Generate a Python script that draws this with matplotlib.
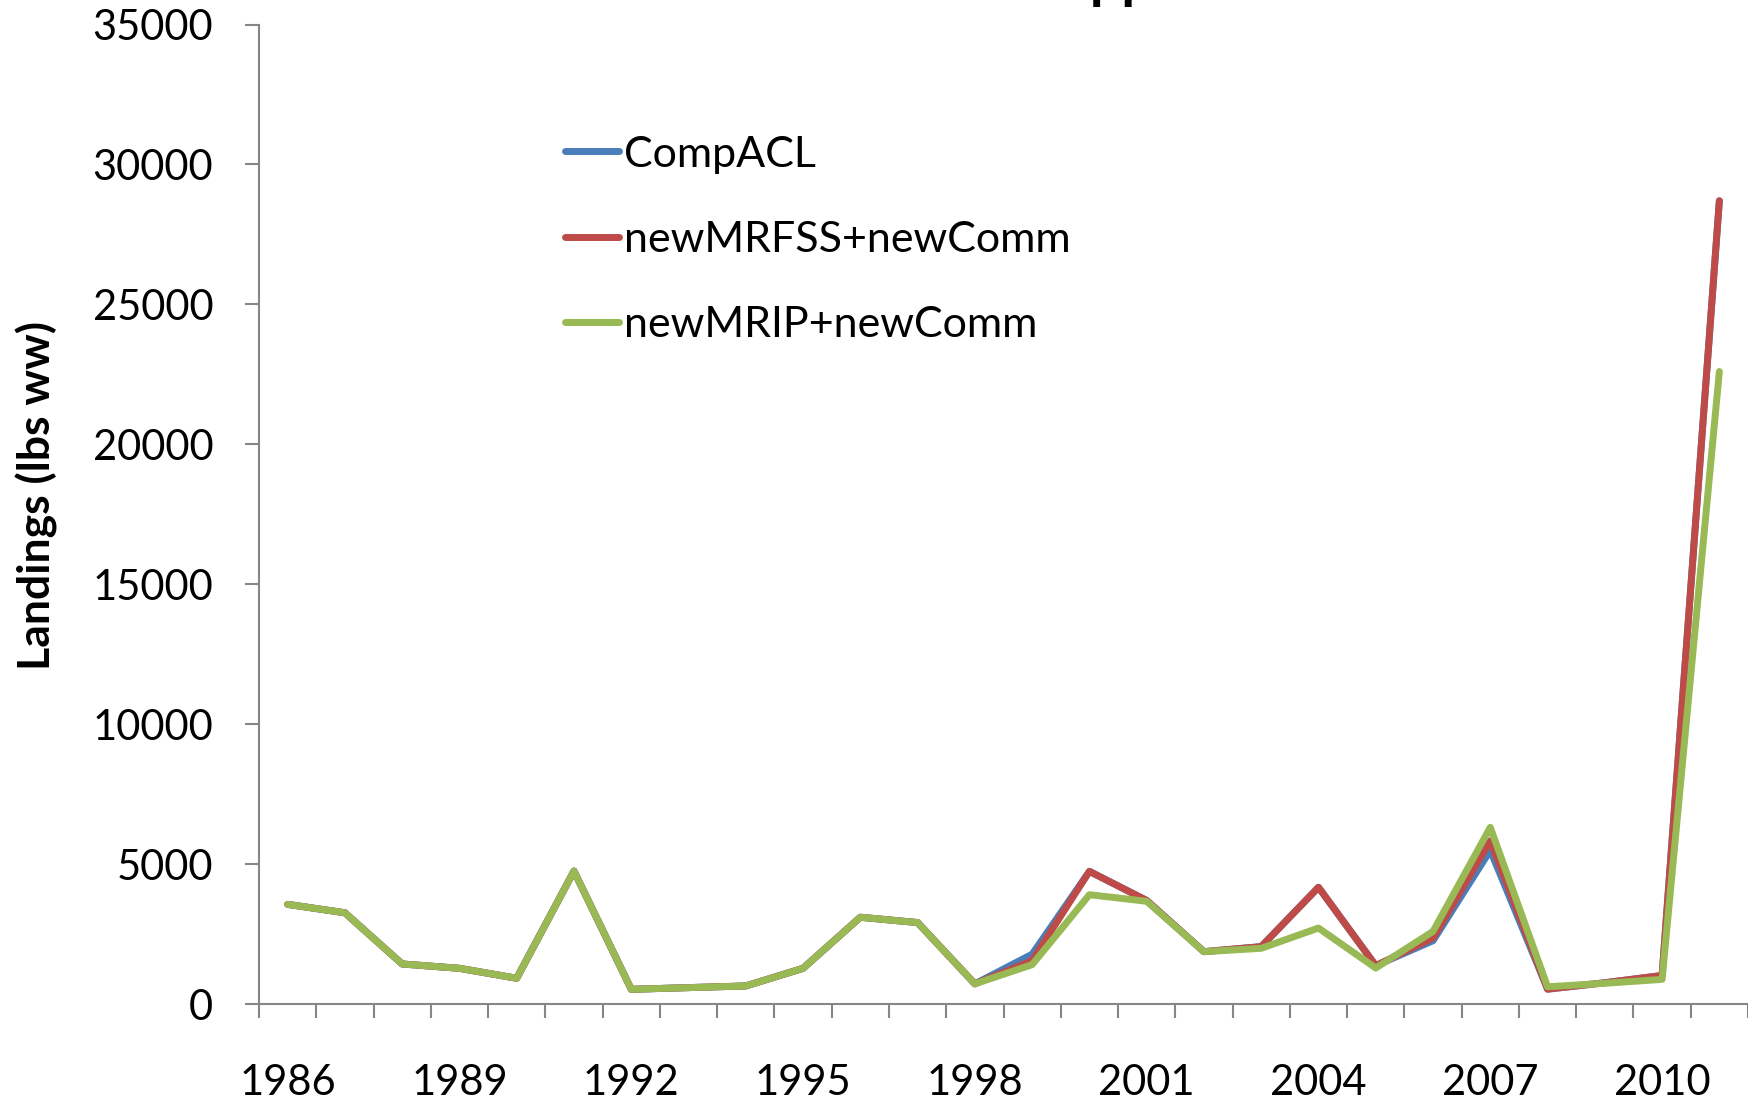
import matplotlib
matplotlib.use('Agg')
import matplotlib.pyplot as plt
import numpy as np

years = list(range(1986, 2012))
comp_acl = [3560, 3260, 1430, 1275, 920, 4750, 525, 585, 645, 1275, 3100, 2910,
            720, 1780, 4740, 3700, 1870, 2050, 4170, 1370, 2260, 5490, 530, 760, 1020, 28700]
new_mrfss = [3560, 3260, 1430, 1275, 920, 4750, 525, 585, 645, 1275, 3100, 2910,
             720, 1550, 4740, 3700, 1870, 2050, 4170, 1370, 2360, 5830, 530, 760, 1020, 28700]
new_mrip = [3560, 3260, 1430, 1275, 920, 4750, 525, 585, 645, 1275, 3100, 2910,
            720, 1405, 3905, 3670, 1870, 1990, 2715, 1285, 2595, 6310, 615, 740, 880, 22600]
series_labels = ['CompACL', 'newMRFSS+newComm', 'newMRIP+newComm']
y_ticks = list(range(0, 35001, 5000))
title_text = 'Snapper'
y_label = 'Landings (lbs ww)'

colors = ['#4A7EBB', '#BE4B48', '#98B954']
axis_gray = '#868686'

plt.rcParams['font.family'] = ['Lato', 'DejaVu Sans']

W, H = 1748, 1101
fig = plt.figure(figsize=(W / 100, H / 100), dpi=100)
ax = fig.add_axes([259 / W, 97 / H, 1 - 259 / W, (1004 - 24.5) / H])

x = np.arange(len(years))
for vals, lab, c in zip([comp_acl, new_mrfss, new_mrip], series_labels, colors):
    ax.plot(x, vals, color=c, lw=5, label=lab,
            solid_capstyle='round', solid_joinstyle='round')

ax.set_xlim(-0.5, len(years) - 0.5)
ax.set_ylim(0, 35000)
ax.set_yticks(y_ticks)
ax.set_xticks(x[::3])
ax.set_xticklabels([str(y) for y in years[::3]])
ax.set_xticks(np.arange(-0.5, len(years)), minor=True)

for side in ['top', 'right']:
    ax.spines[side].set_visible(False)
for side in ['left', 'bottom']:
    ax.spines[side].set_color(axis_gray)
    ax.spines[side].set_linewidth(1.5)

ax.tick_params(axis='x', which='major', length=0, pad=43, labelsize=30)
ax.tick_params(axis='x', which='minor', length=10, width=1.5, color=axis_gray, direction='out')
ax.tick_params(axis='y', length=10, width=1.5, color=axis_gray, direction='out', pad=23, labelsize=30)

fig.text(37 / W, 1 - 496 / H, y_label, rotation=90, ha='center', va='center',
         fontsize=32, fontweight='bold')

ax.legend(loc='upper left', bbox_to_anchor=(565 / W, 1 - 135.5 / H),
          bbox_transform=fig.transFigure, frameon=False, fontsize=31,
          handlelength=1.25, handletextpad=0.11, labelspacing=1.10,
          borderpad=0, borderaxespad=0)

# title: only the descenders peek into the figure at the top
fig.canvas.draw()
r = fig.canvas.get_renderer()
tmp = fig.text(0, 0, 'Sna', fontsize=40, fontweight='bold')
wpre = tmp.get_window_extent(renderer=r).width
tmp.remove()
fig.text((1091 - wpre) / W, 1 + 2.2 / H, title_text, fontsize=40, fontweight='bold',
         ha='left', va='baseline')

fig.savefig('out.png', dpi=100)
